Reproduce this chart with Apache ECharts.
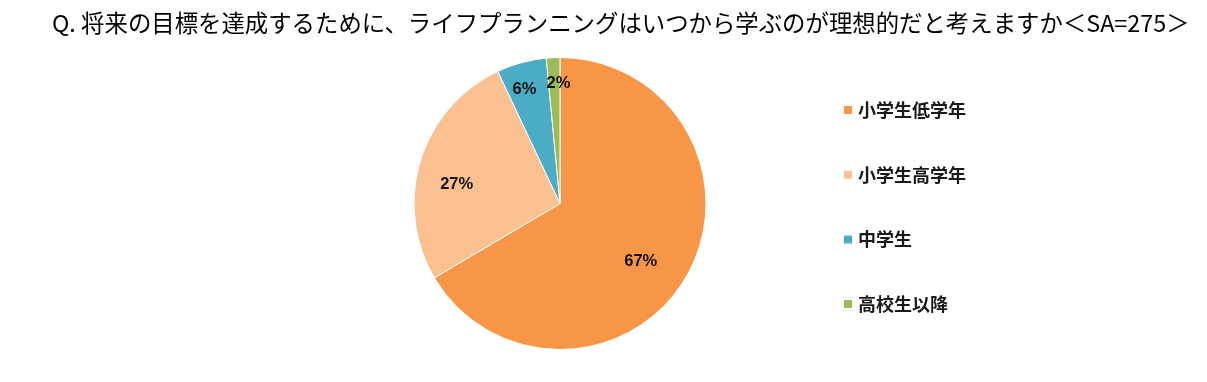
<!DOCTYPE html>
<html><head><meta charset="utf-8">
<script src="https://cdn.jsdelivr.net/npm/echarts@6/dist/echarts.min.js"></script>
<style>html,body{margin:0;padding:0;background:#fff}#c{width:1207px;height:382px}</style>
</head><body><div id="c"></div>
<script>
const titleText = 'Q. 将来の目標を達成するために、ライフプランニングはいつから学ぶのが理想的だと考えますか＜SA=275＞';
const categories = ['小学生低学年', '小学生高学年', '中学生', '高校生以降'];
const shares = [66.5, 26.5, 5.5, 1.5];
const colors = ['#F79646', '#FAC090', '#4BACC6', '#9BBB59'];
// label placement (fraction of radius, angle clockwise from top in degrees)
const labelFrac = [0.68, 0.72, 0.82, 0.82];
const labelAngle = [125.6, 280.7, 342.7, 359.3];
const CX = 560, CY = 203.5, R = 146;

const chart = echarts.init(document.getElementById('c'), null, {renderer: 'canvas'});
chart.setOption({
  animation: false,
  title: {
    text: titleText, left: 47, top: 6,
    textStyle: {fontFamily: '"Noto Sans CJK JP", "Liberation Sans", sans-serif', fontSize: 23.4, fontWeight: 'normal', color: '#000'}
  },
  legend: {
    orient: 'vertical', left: 837, top: 95,
    itemWidth: 10, itemHeight: 10, itemGap: 44.7,
    icon: 'rect',
    textStyle: {fontFamily: '"Noto Sans CJK JP", sans-serif', fontSize: 18, fontWeight: 'bold', color: '#1a1a1a', lineHeight: 20},
    data: categories
  },
  series: [{
    type: 'pie',
    center: [CX, CY], radius: [0, R],
    startAngle: 90, clockwise: true,
    itemStyle: {borderColor: '#fff', borderWidth: 1},
    label: {
      show: true, position: 'inside',
      formatter: p => Math.round(p.value) + '%',
      fontFamily: '"Liberation Sans", Arial, sans-serif', fontSize: 16.5, fontWeight: 'bold', color: '#111'
    },
    labelLine: {show: false},
    labelLayout: function (p) {
      const i = p.dataIndex;
      const a = labelAngle[i] * Math.PI / 180;
      return {x: CX + labelFrac[i] * R * Math.sin(a), y: CY - labelFrac[i] * R * Math.cos(a), align: 'center', verticalAlign: 'middle'};
    },
    data: categories.map((c, i) => ({name: c, value: shares[i], itemStyle: {color: colors[i]}}))
  }]
});
</script></body></html>
